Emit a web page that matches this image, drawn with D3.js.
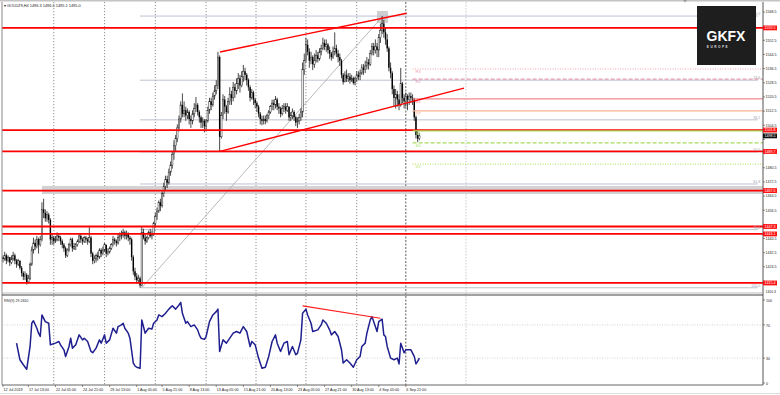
<!DOCTYPE html>
<html><head><meta charset="utf-8">
<script src="https://cdn.jsdelivr.net/npm/d3@7"></script>
<style>body{margin:0;background:#fff}svg{display:block}text{font-family:"Liberation Sans",Arial,sans-serif}</style>
</head><body><svg id="c" width="780" height="395"></svg>
<script>
// ---------- DATA ----------
const chartTitle = "\u25BE GOLDZ9,H4  1496.3 1496.5 1495.1 1495.0";
const rsiTitle = "RSI(9) 29.2610";
const firstOpen = 1430;
const closes = [1429,1431,1428,1430,1427,1429,1431,1428,1426,1428,
1424,1421,1419,1420,1416,1418,
1426,1434,1438,1436,1440,1437,1440,
1457,1455,1452,1454,1451,1440,
1441,1439,1440,1442,1441,1439,1437,1435,1431,1434,1437,1440,1435,1436,1437,1439,1442,1440,1439,1441,1440,1439,
1441,1432,1428,1429,1431,1430,1434,1432,1434,1437,1432,1433,1435,
1437,1440,1439,1438,1441,1442,1443,1444,1442,1443,1441,1440,
1430,1422,1419,1417,1418,1414,
1444,1441,1439,1441,1444,1442,1443,
1449,1453,1456,1461,1459,
1466,1470,1474,1472,1478,1482,1488,1493,
1497,1503,1508,1516,1511,
1513,1510,1512,1508,1507,1511,1514,1516,1512,1509,1506,1507,1504,
1507,1513,1518,1516,1521,1524,1527,
1543,1498,
1510,1519,1515,1512,1518,1522,1520,1526,1524,1528,1531,1527,1532,1535,
1533,1530,1526,1520,1523,1519,1517,1515,1511,1508,
1507,1508,1507,1510,1512,
1515,1517,1516,1519,1515,1514,1511,1514,
1515,1513,1515,1509,1510,1512,1509,1506,1507,1509,1512,
1536,1541,1550,
1546,1541,1543,1539,1541,1544,1542,1546,1548,1551,1549,1550,1547,1545,1543,1546,1548,1545,1543,1541,
1533,1529,1533,1531,1532,1530,1531,1528.5,1531,1533,1532,1534,1537,1536,1538,1540,1539,
1545,1549,1547,1549,1547,1554,1558,1562,1557,
1553,1548,1537,1534,1525,1520,1522,1519,1516,1528,1520,1518,1521,1519,1521,1520,1519,1509,1499,1497,1498.5];
const highs = [1431,1433,1432,1431,1430,1431,1433,1432,1429,1429,
1428,1425,1422,1422,1421,1420,
1427,1436,1441,1440,1442,1441,1442,
1461,1463,1457,1456,1455,1452,
1443,1442,1442,1444,1443,1442,1440,1438,1436,1435,1438,1441,1441,1438,1438,1440,1443,1443,1441,1442,1442,1441,
1447,1442,1433,1431,1432,1433,1435,1435,1436,1438,1437,1435,1436,
1438,1442,1441,1440,1443,1444,1445,1446,1445,1445,1444,1442,
1441,1431,1424,1421,1420,1419,
1447,1446,1443,1442,1445,1446,1445,
1450,1455,1458,1462,1463,
1467,1472,1476,1476,1480,1484,1490,1496,
1499,1505,1510,1518,1522.5,
1518,1515,1514,1513,1510,1513,1517,1520.5,1517,1513,1510,1509,1508,
1508,1515,1520,1520,1523,1527,1530,
1546,1544,
1512,1522,1521,1516,1520,1526,1524,1529,1528,1531,1534,1533,1535,1538.6,
1537,1534,1531,1527,1525,1524,1520,1518,1516,1512,
1510,1510,1510,1511,1513,
1516,1519,1519,1521,1520,1517,1515,1516,
1517,1517,1517,1515,1512,1514,1513,1510,1509,1511,1514,
1540,1545,1554,
1553,1548,1546,1544,1545,1547,1546,1548,1550,1554,1553,1553,1551,1549,1546,1549,1557,1550,1547,1545,
1542,1534,1535,1536,1534,1534,1533,1532,1532,1535,1535,1536,1539,1539,1541,1543,1542,
1547,1551,1551,1553,1551,1556,1562,1566.2,1564,
1560,1556,1549,1540,1535,1527,1525,1524,1522,1536.9,1529,1522,1523,1522,1523,1523,1522,1520,1510,1502,1500];
const lows = [1427,1428,1426,1427,1425,1426,1428,1426,1424,1425,
1423,1419,1417,1417,1414.5,1415,
1417,1425,1432,1434,1435,1432,1436,
1439,1452,1450,1450,1449,1437,
1437,1437,1438,1439,1439,1437,1435,1433,1429.5,1430,1433,1436,1433,1434,1434,1436,1438,1438,1437,1438,1438,1437,
1438,1430,1426,1426.5,1427,1428,1429,1430,1431,1433,1430,1431,1432,
1434,1436,1437,1436,1437,1439,1440,1441,1440,1440,1439,1437,
1428,1420,1417,1415,1415,1412.7,
1413.5,1440,1437,1438,1440,1441,1440,
1442,1447,1451,1455,1456,
1458,1464,1468,1469,1471,1476,1480,1485,
1490,1495,1501,1506,1509,
1509,1507,1508,1505,1503,1505,1509,1512,1510,1506,1503,1503,1500.5,
1502,1506,1511,1513,1515,1519,1522,
1525,1489.8,
1497,1508,1511,1507,1511,1516,1516,1518,1520,1522,1525,1523,1526,1529,
1530,1527,1524,1518,1519,1516,1514,1512,1509,1505,
1504.5,1505,1505,1506,1508,
1511,1513,1513,1514,1513,1511,1509,1510,
1512,1511,1512,1507,1507,1508,1507,1504,1502.9,1505,1507,
1509,1533,1540,
1544,1537,1539,1535.7,1537,1540,1540,1541,1544,1547,1547,1546,1545,1542,1541,1542,1544,1543,1540,1538,
1531,1527.5,1529,1529,1529,1528,1529,1527.5,1527,1529,1530,1530,1533,1533,1534,1536,1536,
1538,1544,1544,1545,1543,1543,1551,1556,1554,
1550,1546,1535,1531,1522,1515,1514,1515,1513,1515,1517,1514,1515,1513,1516,1517,1516,1507,1497,1495,1496];

const rsiBars = [8,10,12,14,16,17,18,20,21,22,23,25,27,28,31,33,34,36,37,39,40,41,43,45,47,48,50,52,53,55,57,58,60,61,63,65,67,68,70,71,72,74,75,77,78,79,81,82,84,86,88,89,91,92,94,96,98,100,102,104,105,106,108,109,111,113,115,116,117,119,120,122,124,126,127,128,130,132,134,136,138,140,142,144,146,147,149,151,153,155,157,159,161,162,164,166,168,169,171,173,174,176,177,179,180,182,183,186,188,189,191,193,194,196,198,200,201,203,205,207,209,211,212,214,215,217,218,220,221,222,224,225,226,227,229,231,233,234,235,237,238,241,243,244,245,246];
const rsiValues = [48,28,22,16.5,44,72,75,66,60,56,82,74,72,46,48,50,46,40,32,44,54,42,46,58,52,54,50,38,36.5,42,52,48,58,48,52,66,60,68,70,72,66,60,54,24,20.5,19,17.7,76,60,66,65,72,76,82,80,84,89,93,89,94,97,84,72,74,68,70,64,58,54,52.6,56,74,82,86,89,38,52,48,54,60,62,60,68,62,44,50,46,30,17.7,19,32,50,58,48,38,48,50,34,44,34,36,52,84,89,82,72,62,64,70,76,72,64,58,62,56,40,24,28,24,19,28,32,44,48,60,76,80,68,62,74,77,58,56,44,30,28,30,23,48,36.5,40,40,32,23,26,30];
const rsiLevels = [70, 30];
const rsiTickLabels = [100, 70, 30, 0];
const rsiTrend = [[177, 93], [223, 78]];

const timeLabels = ["12 Jul 2019","17 Jul 13:00","22 Jul 05:00","24 Jul 21:00","29 Jul 13:00","1 Aug 05:00","5 Aug 21:00","8 Aug 13:00","13 Aug 05:00","15 Aug 21:00","20 Aug 13:00","23 Aug 05:00","27 Aug 21:00","30 Aug 13:00","4 Sep 05:00","6 Sep 21:00"];
const timeLabelBars = [0,15,31,47,63,79,94,110,126,142,158,174,190,206,222,238];
const gridBars = [30,60,90,120,149.5,179,209,238];
const shiftBar = 273.6;

const priceTicks = [1568.5,1560.5,1552.5,1544.5,1536.5,1528.5,1520.5,1512.5,1504.5,1496.5,1488.5,1480.5,1472.5,1464.5,1456.5,1448.5,1440.5,1432.5,1424.5,1416.5];
const redLevels = [1559.5,1501.8,1489.7,1467.6,1447.3,1443.1,1415.4];
const bandLevel = [1465.7, 1470.2];
const bandStartBar = 23;
const topBox = {bars:[221,227.5], prices:[1562.3,1569.1]};

const fibHigh = 1566.2, fibLow = 1412.7, fibStartBar = 81, fibEndBar = 446;
const fibLevels = [0, 23.6, 38.2, 50, 61.8, 78.6, 100];
const fibDiagonal = [[82, 1412.7], [224.5, 1566.2]];

const channelUpper = [[128.2, 1545.9], [238.5, 1567.8]];
const channelLower = [[128.2, 1489.8], [272.4, 1525.5]];

const pivotNames = ["R3","R2","R1","PP","S1","S2","S3"];
const pivotValues = [1536.3,1530.6,1519.4,1512.6,1501.3,1494.5,1482.6];
const pivotColors = ["#f3a0ac","#e49cb2","#f08a8e","#f8b393","#a8dc5c","#a8dc5c","#bde36e"];
const pivotDash = ["1,1.5","4,2","","","","4,2","1,1.5"];
const pivotStartBar = 242;

// ---------- SCALES ----------
const svg = d3.select("#c");
const lastBar = 449;
const x = d3.scaleLinear().domain([0, lastBar]).range([3, 3 + lastBar * 1.6925]);
const y = d3.scaleLinear().domain([1410.3, 1574.15]).range([292, 2]);
const yR = d3.scaleLinear().domain([0, 100]).range([383, 300]);
const paneL = 2, paneR = 763, mainT = 2, mainB = 292, rsiT = 295, rsiB = 385;

svg.append("rect").attr("width", 780).attr("height", 395).attr("fill", "#fff");
svg.append("rect").attr("x", 0).attr("y", 0).attr("width", 780).attr("height", 1.5).attr("fill", "#c4c4c4");

const defs = svg.append("defs");
defs.append("clipPath").attr("id", "cm").append("rect").attr("x", paneL).attr("y", mainT).attr("width", paneR - paneL).attr("height", mainB - mainT);
defs.append("clipPath").attr("id", "cr").append("rect").attr("x", paneL).attr("y", rsiT).attr("width", paneR - paneL).attr("height", rsiB - rsiT);

// grid
const gGrid = svg.append("g");
gridBars.forEach((b, k) => {
  const last = k === gridBars.length - 1;
  gGrid.append("line").attr("x1", x(b)).attr("x2", x(b)).attr("y1", mainT).attr("y2", rsiB)
    .attr("stroke", last ? "#333" : "#777").attr("stroke-width", 0.8).attr("stroke-dasharray", last ? "2,1.5" : "1.2,1.8");
});
gGrid.append("line").attr("x1", x(shiftBar)).attr("x2", x(shiftBar)).attr("y1", mainT).attr("y2", rsiB)
  .attr("stroke", "#bbb").attr("stroke-width", 0.8).attr("stroke-dasharray", "1.5,1.5");

// main pane
const gM = svg.append("g").attr("clip-path", "url(#cm)");
gM.append("rect").attr("x", x(bandStartBar)).attr("width", x(lastBar) - x(bandStartBar))
  .attr("y", y(bandLevel[1])).attr("height", y(bandLevel[0]) - y(bandLevel[1])).attr("fill", "#d2d2d2");
gM.append("rect").attr("x", x(topBox.bars[0])).attr("width", x(topBox.bars[1]) - x(topBox.bars[0]))
  .attr("y", y(topBox.prices[1])).attr("height", y(topBox.prices[0]) - y(topBox.prices[1])).attr("fill", "#cfcfcf");

// fib lines
const fibPrices = fibLevels.map(l => fibHigh - (fibHigh - fibLow) * l / 100);
gM.selectAll(".fib").data(fibPrices).join("line").attr("class", "fib")
  .attr("x1", x(fibStartBar)).attr("x2", x(fibEndBar)).attr("y1", d => y(d)).attr("y2", d => y(d))
  .attr("stroke", "#b3bccb").attr("stroke-width", 0.9);
gM.append("line").attr("x1", x(fibDiagonal[0][0])).attr("y1", y(fibDiagonal[0][1]))
  .attr("x2", x(fibDiagonal[1][0])).attr("y2", y(fibDiagonal[1][1])).attr("stroke", "#a8a8a8").attr("stroke-width", 0.8);

// candles
const bars = closes.map((c, i) => ({i, o: i === 0 ? firstOpen : closes[i - 1], h: highs[i], l: lows[i], c}));
gM.selectAll(".wick").data(bars).join("line").attr("class", "wick")
  .attr("x1", d => x(d.i)).attr("x2", d => x(d.i)).attr("y1", d => y(d.h)).attr("y2", d => y(d.l))
  .attr("stroke", "#1a1a1a").attr("stroke-width", 0.8);
gM.selectAll(".body").data(bars).join("rect").attr("class", "body")
  .attr("x", d => x(d.i) - 0.7).attr("width", 1.4)
  .attr("y", d => y(Math.max(d.o, d.c))).attr("height", d => Math.max(0.6, Math.abs(y(d.o) - y(d.c))))
  .attr("fill", d => d.c >= d.o ? "#fff" : "#000").attr("stroke", d => d.c >= d.o ? "#222" : "none").attr("stroke-width", 0.5);

// red levels
gM.selectAll(".red").data(redLevels).join("line").attr("class", "red")
  .attr("x1", paneL).attr("x2", paneR).attr("y1", d => y(d)).attr("y2", d => y(d))
  .attr("stroke", "#ff0000").attr("stroke-width", 1.8);

// pivots
pivotValues.forEach((v, k) => {
  gM.append("line").attr("x1", x(pivotStartBar)).attr("x2", x(lastBar)).attr("y1", y(v)).attr("y2", y(v))
    .attr("stroke", pivotColors[k]).attr("stroke-width", 1.2).attr("stroke-dasharray", pivotDash[k] || null);
  gM.append("text").attr("x", x(pivotStartBar) + 3).attr("y", y(v) + 4.2).text(pivotNames[k])
    .attr("font-size", 4.2).attr("fill", pivotColors[k]);
});

// channel lines
[channelUpper, channelLower].forEach(seg => {
  gM.append("line").attr("x1", x(seg[0][0])).attr("y1", y(seg[0][1])).attr("x2", x(seg[1][0])).attr("y2", y(seg[1][1]))
    .attr("stroke", "#ff0000").attr("stroke-width", 1.3);
});

// fib labels
fibPrices.forEach((p, k) => {
  svg.append("text").attr("x", x(fibEndBar) + 2.5).attr("y", y(p) - 1).attr("text-anchor", "end")
    .attr("font-size", 3.6).attr("fill", "#9aa0aa").text(fibLevels[k] === 100 ? "100.0" : fibLevels[k].toFixed(1));
});

// title
svg.append("text").attr("x", 4).attr("y", 7).attr("font-size", 3.9).attr("fill", "#222").text(chartTitle);

// logo
svg.append("rect").attr("x", 697).attr("y", 6).attr("width", 59).attr("height", 59).attr("fill", "#1e1e1e");
svg.append("text").attr("x", 726).attr("y", 40.5).attr("text-anchor", "middle").attr("font-size", 14).attr("font-weight", "bold")
  .attr("fill", "#fff").attr("font-family", "'DejaVu Sans',sans-serif").text("GKFX");
svg.append("text").attr("x", 718).attr("y", 47.5).attr("text-anchor", "middle").attr("font-size", 3.2).attr("font-weight", "bold")
  .attr("letter-spacing", 1.5).attr("fill", "#ddd").text("EUROPE");

// shift marker
svg.append("path").attr("d", `M${x(403) - 2},0 L${x(403) + 2},0 L${x(403)},2.5 Z`).attr("fill", "#999");

// RSI pane
const gR = svg.append("g").attr("clip-path", "url(#cr)");
gR.selectAll(".lvl").data(rsiLevels).join("line").attr("class", "lvl")
  .attr("x1", paneL).attr("x2", paneR).attr("y1", d => yR(d)).attr("y2", d => yR(d))
  .attr("stroke", "#c8c8c8").attr("stroke-width", 0.8).attr("stroke-dasharray", "1,1.5");
const rsiData = rsiBars.map((b, k) => [b, rsiValues[k]]);
gR.append("path").datum(rsiData).attr("d", d3.line().x(d => x(d[0])).y(d => yR(d[1])))
  .attr("fill", "none").attr("stroke", "#1f1f8f").attr("stroke-width", 1.5).attr("stroke-linejoin", "round");
gR.append("line").attr("x1", x(rsiTrend[0][0])).attr("y1", yR(rsiTrend[0][1])).attr("x2", x(rsiTrend[1][0])).attr("y2", yR(rsiTrend[1][1]))
  .attr("stroke", "#ff2020").attr("stroke-width", 1.2);
svg.append("text").attr("x", 4).attr("y", 301.5).attr("font-size", 3.6).attr("fill", "#222").text(rsiTitle);

// frames
svg.append("line").attr("x1", paneL).attr("x2", paneL).attr("y1", mainT).attr("y2", rsiB).attr("stroke", "#8a8a8a").attr("stroke-width", 1);
svg.append("line").attr("x1", paneR).attr("x2", paneR).attr("y1", mainT).attr("y2", rsiB).attr("stroke", "#555").attr("stroke-width", 1);
svg.append("line").attr("x1", paneL).attr("x2", paneR).attr("y1", mainB + 1).attr("y2", mainB + 1).attr("stroke", "#aaa").attr("stroke-width", 0.8);
svg.append("line").attr("x1", paneL).attr("x2", paneR).attr("y1", rsiT).attr("y2", rsiT).attr("stroke", "#444").attr("stroke-width", 1);
svg.append("line").attr("x1", paneL).attr("x2", paneR).attr("y1", rsiB).attr("y2", rsiB).attr("stroke", "#666").attr("stroke-width", 1);

// right price axis
const gA = svg.append("g");
const lastClose = closes[closes.length - 1];
const boxed = redLevels.concat([lastClose]).map(v => y(v));
priceTicks.forEach(v => {
  gA.append("line").attr("x1", paneR).attr("x2", paneR + 2).attr("y1", y(v)).attr("y2", y(v)).attr("stroke", "#444").attr("stroke-width", 0.6);
  if (boxed.some(b => Math.abs(b - y(v)) < 4.6)) return; // hidden behind a price box, as in the reference
  gA.append("text").attr("x", paneR + 2.5).attr("y", y(v) + 1.3).attr("font-size", 3.6).attr("fill", "#222").text(v.toFixed(1));
});
gA.append("text").attr("x", paneR + 2.5).attr("y", mainB + 0.8).attr("font-size", 3.4).attr("fill", "#222").text(y.domain()[0].toFixed(1));
redLevels.forEach(v => {
  gA.append("rect").attr("x", paneR).attr("y", y(v) - 2.4).attr("width", 14).attr("height", 4.8).attr("fill", "#ff1010");
  gA.append("text").attr("x", paneR + 1.5).attr("y", y(v) + 1.3).attr("font-size", 3.6).attr("fill", "#fff").text(v.toFixed(1));
});
gA.append("rect").attr("x", paneR).attr("y", y(lastClose) - 2.4).attr("width", 14).attr("height", 4.8).attr("fill", "#111");
gA.append("text").attr("x", paneR + 1.5).attr("y", y(lastClose) + 1.3).attr("font-size", 3.6).attr("fill", "#fff").text(lastClose.toFixed(1));
rsiTickLabels.forEach(v => {
  gA.append("line").attr("x1", paneR).attr("x2", paneR + 2).attr("y1", yR(v)).attr("y2", yR(v)).attr("stroke", "#444").attr("stroke-width", 0.6);
  gA.append("text").attr("x", paneR + 3).attr("y", yR(v) + 1.6).attr("font-size", 3.6).attr("fill", "#222").text(v);
});

// time axis
timeLabels.forEach((t, k) => {
  const xx = x(timeLabelBars[k]);
  gA.append("line").attr("x1", xx).attr("x2", xx).attr("y1", rsiB).attr("y2", rsiB + 2).attr("stroke", "#444").attr("stroke-width", 0.6);
  gA.append("text").attr("x", xx + 0.5).attr("y", 390.5).attr("font-size", 3.7).attr("fill", "#222").text(t);
});
svg.append("line").attr("x1", 0).attr("x2", 780).attr("y1", 393.5).attr("y2", 393.5).attr("stroke", "#ddd").attr("stroke-width", 1);
</script></body></html>
